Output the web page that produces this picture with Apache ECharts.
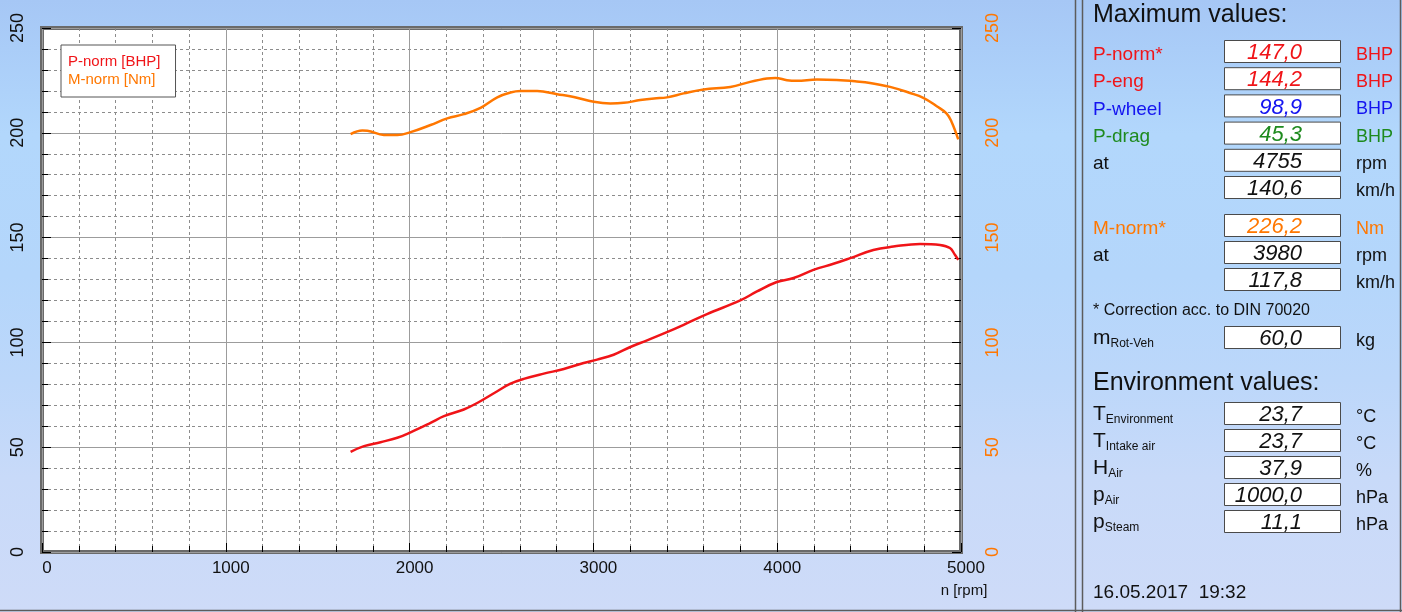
<!DOCTYPE html>
<html>
<head>
<meta charset="utf-8">
<script src="https://cdn.jsdelivr.net/npm/echarts@6/dist/echarts.min.js"></script>
<style>
html,body{margin:0;padding:0;}
body{width:1402px;height:612px;overflow:hidden;
background:linear-gradient(to bottom,#a6c7f5 0%,#aacdf8 8%,#b2d7fc 22%,#b4d6fb 45%,#bcd7fa 62%,#c8daf9 78%,#cedbf8 100%);}
#chart{width:1402px;height:612px;}
</style>
</head>
<body>
<div id="chart"></div>
<script>
// ---- curve data ----
const powerRpm = [1679,1752,1842,1933,2005,2114,2187,2295,2368,2477,2549,2621,2730,2839,2947,3020,3110,3201,3292,3400,3491,3618,3799,3890,3998,4089,4197,4306,4397,4523,4632,4777,4886,4940,4967,4985];
const powerVals = [47.8,50.5,52.4,54.5,57.1,61.6,64.8,68.0,71.1,76.7,80.3,82.6,85.1,87.3,90.2,91.8,94.1,97.8,101.0,104.9,108.4,113.5,120.0,124.3,128.8,130.7,134.6,137.5,140.2,144.1,145.7,147.0,146.5,145.0,141.8,139.4];
const torqueRpm = [1679,1743,1770,1860,1933,2005,2114,2205,2295,2386,2477,2549,2603,2694,2803,2893,3002,3092,3165,3255,3330,3400,3491,3600,3745,3853,3944,3990,4053,4107,4216,4324,4433,4505,4614,4723,4795,4868,4922,4949,4985];
const torqueVals = [199.4,201.1,201.0,199.0,198.9,200.3,203.7,206.9,208.9,211.9,216.9,219.2,219.9,219.9,218.4,217.1,214.8,214.0,214.3,215.6,216.4,216.9,218.8,220.7,221.9,224.3,225.9,226.2,225.1,224.8,225.4,225.2,224.5,223.8,221.9,219.0,216.7,212.7,209.2,205.2,196.9];
const seriesNames = ['P-norm [BHP]','M-norm [Nm]'];
const xTicks = [0,1000,2000,3000,4000,5000];
const yTicks = [0,50,100,150,200,250];
const xAxisTitle = 'n [rpm]';

// ---- side panel texts ----
const maxTitle = 'Maximum values:';
const maxLabels = ['P-norm*','P-eng','P-wheel','P-drag','at',''];
const maxValues = ['147,0','144,2','98,9','45,3','4755','140,6'];
const maxUnits = ['BHP','BHP','BHP','BHP','rpm','km/h'];
const torqueLabels = ['M-norm*','at',''];
const torqueValues = ['226,2','3980','117,8'];
const torqueUnits = ['Nm','rpm','km/h'];
const noteText = '* Correction acc. to DIN 70020';
const massLabel = ['m','Rot-Veh'];
const massValue = '60,0';
const massUnit = 'kg';
const envTitle = 'Environment values:';
const envLabels = [['T','Environment'],['T','Intake air'],['H','Air'],['p','Air'],['p','Steam']];
const envValues = ['23,7','23,7','37,9','1000,0','11,1'];
const envUnits = ['°C','°C','%','hPa','hPa'];
const stampText = '16.05.2017  19:32';

const RED = '#f01418', ORANGE = '#ff7700', BLUE = '#1414f0', GREEN = '#1e8a1e', BLACK = '#111';
const maxColors = [RED, RED, BLUE, GREEN, BLACK, BLACK];
const torqueColors = [ORANGE, BLACK, BLACK];
const FONT = '"Liberation Sans", Arial, sans-serif';

const chart = echarts.init(document.getElementById('chart'), null, {renderer:'canvas'});

const graphics = [];
function line(x1,y1,x2,y2,color,w){
  graphics.push({type:'line', shape:{x1,y1,x2,y2}, style:{stroke:color, lineWidth:w||1}, silent:true});
}
function txt(x,y,text,opts){
  graphics.push({type:'text', x, y, silent:true, style:Object.assign({text, fill:BLACK, font:'19px '+FONT, align:'left', verticalAlign:'middle'}, opts||{})});
}
function subLabel(x,y,main,sub,color){
  graphics.push({type:'text', x, y, silent:true, style:{
    text:'{m|'+main+'}{s|'+sub+'}', align:'left', verticalAlign:'top', fill:color||BLACK,
    rich:{
      m:{fontSize:21, fontFamily:FONT, lineHeight:22, verticalAlign:'top', fill:color||BLACK},
      s:{fontSize:12, fontFamily:FONT, lineHeight:12, verticalAlign:'bottom', padding:[13,0,0,0], fill:color||BLACK}
    }}});
}
function box(yc,value,color){
  graphics.push({type:'rect', silent:true, shape:{x:1224.5, y:yc-11.5, width:116, height:22},
    style:{fill:'#ffffff', stroke:'#4a4a4a', lineWidth:1}});
  txt(1302, yc+1, value, {align:'right', font:'italic 22px '+FONT, fill:color});
}

// separators / frame lines
line(1075.5,0,1075.5,612,'#5c5c5c',1.5);
line(1082.5,0,1082.5,612,'#5c5c5c',1.5);
line(0,610.5,1402,610.5,'#5c5c5c',1.5);
line(1400.5,0,1400.5,612,'#5c5c5c',1.5);

// maximum values block
txt(1093, 15, maxTitle, {font:'25px '+FONT});
maxLabels.forEach((lab,i)=>{
  const yc = 52 + i*27.2;
  if (lab) txt(1093, yc+3, lab, {fill:maxColors[i]});
  box(yc, maxValues[i], maxColors[i]);
  txt(1356, yc+3, maxUnits[i], {fill:maxColors[i], font:'18px '+FONT});
});
torqueLabels.forEach((lab,i)=>{
  const yc = 226 + i*27;
  if (lab) txt(1093, yc+3, lab, {fill:torqueColors[i]});
  box(yc, torqueValues[i], torqueColors[i]);
  txt(1356, yc+3, torqueUnits[i], {fill:torqueColors[i], font:'18px '+FONT});
});
txt(1093, 311, noteText, {font:'16px '+FONT});
subLabel(1093, 328, massLabel[0], massLabel[1]);
box(338, massValue, BLACK);
txt(1356, 341, massUnit, {font:'18px '+FONT});

// environment block
txt(1093, 383, envTitle, {font:'25px '+FONT});
envLabels.forEach((lab,i)=>{
  const yc = 414 + i*27;
  subLabel(1093, yc-10, lab[0], lab[1]);
  box(yc, envValues[i], BLACK);
  txt(1356, yc+3, envUnits[i], {font:'18px '+FONT});
});
txt(1093, 593, stampText, {font:'19px '+FONT});

// x axis title
txt(964, 591, xAxisTitle, {align:'center', font:'15px '+FONT});

const tickStyle = {show:true, inside:true, length:9, lineStyle:{color:'#000', width:1}};
const minorTickStyle = {show:true, splitNumber:5, length:6, lineStyle:{color:'#000', width:1}};
const plain = v => String(v);

const option = {
  animation:false,
  backgroundColor:'transparent',
  legend:{
    orient:'vertical', left:61, top:45,
    backgroundColor:'#ffffff', borderColor:'#555', borderWidth:1,
    padding:[9,15,10,2], itemGap:3, itemWidth:0, itemHeight:0, icon:'rect',
    textStyle:{fontSize:15, fontFamily:FONT},
    data:[{name:seriesNames[0], textStyle:{color:RED}},{name:seriesNames[1], textStyle:{color:ORANGE}}]
  },
  grid:{left:42, right:441, top:28, bottom:60, show:true, backgroundColor:'#ffffff', borderColor:'#6a6a6a', borderWidth:4},
  xAxis:{
    type:'value', min:xTicks[0], max:xTicks[xTicks.length-1], interval:xTicks[1]-xTicks[0],
    axisLine:{show:false}, axisTick:tickStyle, minorTick:minorTickStyle,
    splitLine:{show:true, lineStyle:{color:'#9c9c9c', width:1}},
    minorSplitLine:{show:true, lineStyle:{color:'#8c8c8c', width:1, type:[3,3]}},
    axisLabel:{margin:8, fontSize:17, color:BLACK, fontFamily:FONT, padding:[0,0,0,10], formatter:plain}
  },
  yAxis:[{
    type:'value', min:yTicks[0], max:yTicks[yTicks.length-1], interval:yTicks[1]-yTicks[0], position:'left',
    axisLine:{show:false}, axisTick:tickStyle, minorTick:minorTickStyle,
    splitLine:{show:true, lineStyle:{color:'#9c9c9c', width:1}},
    minorSplitLine:{show:true, lineStyle:{color:'#8c8c8c', width:1, type:[3,3]}},
    axisLabel:{rotate:90, margin:15, fontSize:18, color:BLACK, fontFamily:FONT, formatter:plain}
  },{
    type:'value', min:yTicks[0], max:yTicks[yTicks.length-1], interval:yTicks[1]-yTicks[0], position:'right',
    axisLine:{show:false}, axisTick:tickStyle, minorTick:minorTickStyle,
    splitLine:{show:false}, minorSplitLine:{show:false},
    axisLabel:{rotate:90, margin:23, fontSize:18, color:ORANGE, fontFamily:FONT, formatter:plain}
  }],
  series:[{
    name:seriesNames[0], type:'line', yAxisIndex:0, smooth:0.4, showSymbol:false, z:5,
    lineStyle:{color:RED, width:2.5}, itemStyle:{color:RED},
    data: powerRpm.map((r,i)=>[r, powerVals[i]])
  },{
    name:seriesNames[1], type:'line', yAxisIndex:1, smooth:0.4, showSymbol:false, z:5,
    lineStyle:{color:ORANGE, width:2.5}, itemStyle:{color:ORANGE},
    data: torqueRpm.map((r,i)=>[r, torqueVals[i]])
  }],
  graphic: graphics
};
chart.setOption(option);
</script>
</body>
</html>
